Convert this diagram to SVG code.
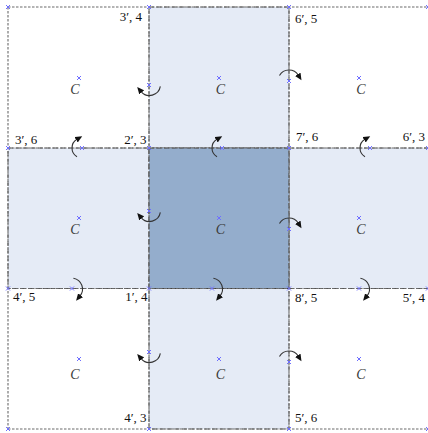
<svg xmlns="http://www.w3.org/2000/svg" width="428" height="433" viewBox="0 0 428 433">
<style>
.bg{fill:#ffffff}
.light{fill:#e5ebf6;stroke:#555;stroke-width:1;stroke-dasharray:5 2.5}
.dark{fill:#94adcc;stroke:#444;stroke-width:1;stroke-dasharray:5 2.5}
.grid{stroke:#6a6a6a;stroke-width:1.1;stroke-dasharray:2.5 1.5;fill:none}
.xm{stroke:#6f6fff;stroke-width:1;fill:none}
.lbl{font-family:"Liberation Serif","Times New Roman",serif;font-size:13px;fill:#111}
.c{font-family:"Liberation Serif","Times New Roman",serif;font-size:14px;font-style:italic;fill:#3a3a3a;text-anchor:middle}
.rot{fill:none;stroke:#333;stroke-width:1.1;marker-end:url(#ah)}
</style>
<defs>
<marker id="ah" markerUnits="userSpaceOnUse" markerWidth="8" markerHeight="7" refX="1" refY="3.2" orient="auto">
<path d="M0,0 L7,3.2 L0,6.4 z" fill="#111"/>
</marker>
<path id="x" d="M-2,-2 L2,2 M-2,2 L2,-2"/>
</defs>
<rect class="bg" x="0" y="0" width="428" height="433"/>
<g id="cells">
<rect id="cell-top" class="light" x="149" y="7" width="140" height="141"/>
<rect id="cell-left" class="light" x="8" y="148" width="141" height="140.5"/>
<rect id="cell-right" class="light" x="289" y="148" width="142" height="140.5"/>
<rect id="cell-bottom" class="light" x="149" y="288.5" width="140" height="140.5"/>
<rect id="cell-center" class="dark" x="149" y="148" width="140" height="140.5"/>
</g>
<g id="grid">
<line class="grid" x1="8" y1="7" x2="8" y2="429"/>
<line class="grid" x1="149" y1="7" x2="149" y2="429"/>
<line class="grid" x1="289" y1="7" x2="289" y2="429"/>
<line class="grid" x1="8" y1="7" x2="430" y2="7"/>
<line class="grid" x1="8" y1="148" x2="430" y2="148"/>
<line class="grid" x1="8" y1="288.5" x2="430" y2="288.5"/>
<line class="grid" x1="8" y1="429" x2="430" y2="429"/>
</g>
<g id="markers" class="xm">
<use href="#x" x="8" y="7"/><use href="#x" x="149" y="7"/><use href="#x" x="289" y="7"/><use href="#x" x="428" y="7"/>
<use href="#x" x="8" y="148"/><use href="#x" x="149" y="148"/><use href="#x" x="289" y="148"/><use href="#x" x="428" y="148"/>
<use href="#x" x="8" y="288.5"/><use href="#x" x="149" y="288.5"/><use href="#x" x="289" y="288.5"/><use href="#x" x="428" y="288.5"/>
<use href="#x" x="8" y="429"/><use href="#x" x="149" y="429"/><use href="#x" x="289" y="429"/><use href="#x" x="428" y="429"/>
<use href="#x" x="79" y="78"/><use href="#x" x="219" y="78"/><use href="#x" x="359" y="78"/>
<use href="#x" x="79" y="218"/><use href="#x" x="219" y="218"/><use href="#x" x="359" y="218"/>
<use href="#x" x="79" y="359"/><use href="#x" x="219" y="359"/><use href="#x" x="359" y="359"/>
<use href="#x" x="149" y="85"/><use href="#x" x="149" y="211"/><use href="#x" x="149" y="352"/>
<use href="#x" x="82" y="148"/><use href="#x" x="222" y="148"/><use href="#x" x="370" y="148"/>
<use href="#x" x="289" y="81"/><use href="#x" x="289" y="229"/><use href="#x" x="289" y="362"/>
<use href="#x" x="72" y="288.5"/><use href="#x" x="212" y="288.5"/><use href="#x" x="359" y="288.5"/>
</g>
<g id="connectors">
<path class="rot" d="M160.33,86.41 A11,11 0 0 1 141.07,91.57"/>
<path class="rot" d="M160.33,212.41 A11,11 0 0 1 141.07,217.57"/>
<path class="rot" d="M160.33,353.41 A11,11 0 0 1 141.07,358.57"/>
<path class="rot" d="M77,156.66 A10,10 0 0 1 77,139.34"/>
<path class="rot" d="M217,156.66 A10,10 0 0 1 217,139.34"/>
<path class="rot" d="M365,156.66 A10,10 0 0 1 365,139.34"/>
<path class="rot" d="M279.47,75.5 A11,11 0 0 1 298.33,75.17"/>
<path class="rot" d="M279.47,223.5 A11,11 0 0 1 298.33,223.17"/>
<path class="rot" d="M279.47,356.5 A11,11 0 0 1 298.33,356.17"/>
<path class="rot" d="M73.41,278.17 A11,11 0 0 1 79.93,296.07"/>
<path class="rot" d="M213.41,278.17 A11,11 0 0 1 219.93,296.07"/>
<path class="rot" d="M360.41,278.17 A11,11 0 0 1 366.93,296.07"/>
</g>
<g id="labels">
<text class="lbl" x="142" y="21" text-anchor="end">3′, 4</text>
<text class="lbl" x="295" y="23">6′, 5</text>
<text class="lbl" x="15" y="144">3′, 6</text>
<text class="lbl" x="146.5" y="144" text-anchor="end">2′, 3</text>
<text class="lbl" x="296" y="141">7′, 6</text>
<text class="lbl" x="425" y="140.5" text-anchor="end">6′, 3</text>
<text class="lbl" x="13" y="301">4′, 5</text>
<text class="lbl" x="147.5" y="301" text-anchor="end">1′, 4</text>
<text class="lbl" x="295" y="302">8′, 5</text>
<text class="lbl" x="425" y="302" text-anchor="end">5′, 4</text>
<text class="lbl" x="146.5" y="422" text-anchor="end">4′, 3</text>
<text class="lbl" x="295" y="422">5′, 6</text>
</g>
<g id="centers">
<text class="c" x="75" y="94">C</text>
<text class="c" x="220.5" y="94">C</text>
<text class="c" x="361" y="94">C</text>
<text class="c" x="75" y="234">C</text>
<text class="c" x="220.5" y="233.5">C</text>
<text class="c" x="361" y="234">C</text>
<text class="c" x="75" y="379">C</text>
<text class="c" x="220.5" y="379">C</text>
<text class="c" x="361" y="379">C</text>
</g>
</svg>
